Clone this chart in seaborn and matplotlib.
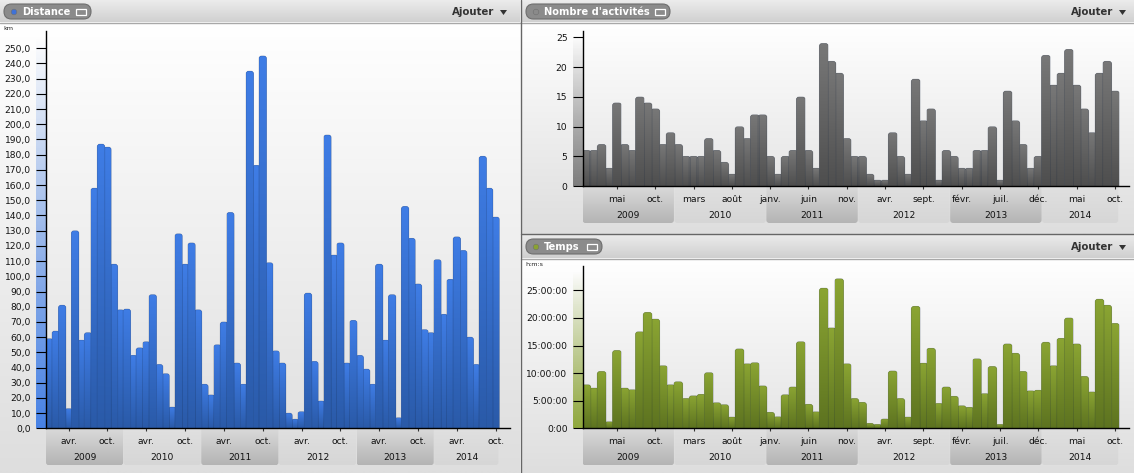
import numpy as np
import pandas as pd
import seaborn as sns
import matplotlib
matplotlib.use("Agg")
import matplotlib.pyplot as plt
from matplotlib.colors import to_rgb
from matplotlib.patches import FancyBboxPatch, Rectangle, Polygon, Circle

# values per month, january 2009 to october 2014
distance_km = [59, 64, 81, 13, 130, 58, 63, 158, 187, 185, 108, 78,
               78.5, 48, 53, 57, 88, 42, 36, 14, 128, 108, 122, 78,
               29, 22, 55, 70, 142, 43, 29, 235, 173, 245, 109, 51,
               43, 10, 6, 11, 89, 44, 18, 193, 114, 122, 43, 71,
               48, 39, 29, 108, 58, 88, 7, 146, 125, 95, 65, 63,
               111, 75, 98, 126, 117, 60, 42, 179, 158, 139]
activities = [6, 6, 7, 3, 14, 7, 6, 15, 14, 13, 7, 9,
              7, 5, 5, 5, 8, 6, 4, 2, 10, 8, 12, 12,
              5, 2, 5, 6, 15, 6, 3, 24, 21, 19, 8, 5,
              5, 2, 1, 1, 9, 5, 2, 18, 11, 13, 1, 6,
              5, 3, 3, 6, 6, 10, 1, 16, 11, 7, 3, 5,
              22, 17, 19, 23, 17, 13, 9, 19, 21, 16]
time_hours = [7.9, 7.3, 10.3, 1.2, 14.1, 7.3, 7.0, 17.5, 21, 19.8, 11.35, 7.9,
              8.45, 5.4, 5.9, 6.15, 10.1, 4.65, 4.3, 2.05, 14.4, 11.7, 11.9, 7.7,
              2.9, 2.1, 6.1, 7.5, 15.7, 4.35, 3, 25.4, 18.2, 27.1, 11.7, 5.4,
              4.7, 0.9, 0.7, 1.7, 10.4, 5.4, 2.05, 22.1, 11.8, 14.5, 4.5, 7.5,
              5.8, 4.1, 3.8, 12.6, 6.3, 11.2, 0.7, 15.3, 13.6, 10.3, 6.8, 6.9,
              15.6, 11.35, 16.3, 20, 15.3, 9.4, 6.6, 23.4, 22.3, 19]

years = ["2009", "2010", "2011", "2012", "2013", "2014"]
year_months = [12, 12, 12, 12, 12, 10]

distance_ticks = list(range(0, 251, 10))
distance_labels = [f"{v},0" for v in distance_ticks]
activity_ticks = [0, 5, 10, 15, 20, 25]
activity_labels = ["0", "5", "10", "15", "20", "25"]
time_ticks = [0, 5, 10, 15, 20, 25]
time_labels = ["0:00", "5:00:00", "10:00:00", "15:00:00", "20:00:00", "25:00:00"]

left_month_ticks = [3, 9, 15, 21, 27, 33, 39, 45, 51, 57, 63, 69]
left_month_labels = ["avr.", "oct."] * 6
right_month_ticks = [4, 9, 14, 19, 24, 29, 34, 39, 44, 49, 54, 59, 64, 69]
right_month_labels = ["mai", "oct.", "mars", "août", "janv.", "juin", "nov.",
                      "avr.", "sept.", "févr.", "juil.", "déc.", "mai", "oct."]

W, H = 1134, 473
FS = 6.6

sns.set_theme(style="white")
plt.rcParams["font.family"] = ["DejaVu Sans"]

fig = plt.figure(figsize=(W / 100, H / 100), dpi=100, facecolor="white")
bg = fig.add_axes([0, 0, 1, 1], zorder=0)
bg.axis("off")


def ramp(top, bottom, a_top=1.0, a_bottom=1.0):
    # vertical colour ramp for imshow
    t = np.linspace(0, 1, 128)[:, None, None]
    c0 = np.array(list(to_rgb(top)) + [a_top])[None, None, :]
    c1 = np.array(list(to_rgb(bottom)) + [a_bottom])[None, None, :]
    return c0 * (1 - t) + c1 * t


def bg_grad(x0, x1, y0, y1, top, bottom, a_top=1.0, a_bottom=1.0, clip=None, z=1):
    im = bg.imshow(ramp(top, bottom, a_top, a_bottom), extent=(x0, x1, y1, y0),
                   aspect="auto", interpolation="bilinear", zorder=z)
    if clip is not None:
        im.set_clip_path(clip)
    return im


def panel(x0, x1, y0, y1, head, title, dot, pill_w, add_x):
    # header bar and plot background
    bg_grad(x0, x1, y0, y0 + head, "#ececec", "#cfcfcf")
    bg_grad(x0, x1, y0 + head, y1, "#ffffff", "#dedede")
    bg.plot([x0, x1], [y0 + head, y0 + head], color="#a8a8a8", lw=1, zorder=3)
    px = x0 + 5 if x0 > 0 else 4
    py = y0 + 4
    bg.add_patch(FancyBboxPatch((px, py), pill_w, 15, boxstyle="round,pad=0,rounding_size=7.5",
                                fc="#8b8b8b", ec="#6e6e6e", lw=0.8, zorder=3))
    bg.add_patch(Circle((px + 10, py + 8), 2.8, fc=dot, ec="#707070", lw=0.4, zorder=4))
    bg.text(px + 18, py + 8, title, color="white", fontsize=7.1, fontweight="bold",
            ha="left", va="center", zorder=4)
    ix = px + pill_w - 15
    bg.add_patch(Rectangle((ix, py + 5), 10, 6, fc="none", ec="white", lw=0.9, zorder=4))
    bg.text(add_x, py + 8, "Ajouter", color="#333333", fontsize=7.3, fontweight="bold",
            ha="left", va="center", zorder=4)
    tx = add_x + 48
    bg.add_patch(Polygon([(tx, py + 6), (tx + 7, py + 6), (tx + 3.5, py + 11)],
                         fc="#333333", ec="none", zorder=4))


def chart(values, x0, x1, top, y_zero, px_per_unit, month_px, ticks, labels, m_ticks, m_labels,
          c_top, c_bottom, unit, unit_x):
    # plot axes placed on pixel positions, the top of the axis line is ylim top
    ax = fig.add_axes([x0 / W, 1 - y_zero / H, (x1 - x0) / W, (y_zero - top) / H], zorder=2)
    ax.patch.set_alpha(0)
    df = pd.DataFrame({"month": np.arange(len(values)), "value": values})
    sns.barplot(data=df, x="month", y="value", native_scale=True, width=1.17, color=c_top,
                saturation=1, ax=ax, legend=False)
    ax.set_xlim(-0.5, (x1 - x0) / month_px - 0.5)
    ax.set_ylim(0, (y_zero - top) / px_per_unit)
    aspect = month_px / px_per_unit
    vmax = max(values)
    for bar in list(ax.patches):
        bx, bw, bh = bar.get_x(), bar.get_width(), bar.get_height()
        z = 1 + bh / vmax
        rnd = FancyBboxPatch((bx, -6 / px_per_unit), bw, bh + 6 / px_per_unit,
                             boxstyle=f"round,pad=0,rounding_size={2.6 / month_px}",
                             mutation_aspect=aspect, fc="none", ec="#10203a", lw=0.5,
                             alpha=0.25, zorder=z + 0.001)
        ax.add_patch(rnd)
        bar.set_zorder(z)
        bar.set_linewidth(0)
        bar.set_clip_path(rnd)
        im = ax.imshow(ramp(c_top, c_bottom), extent=(bx, bx + bw, 0, bh), aspect="auto",
                       interpolation="bilinear", zorder=z)
        im.set_clip_path(rnd)
    ax.set_xlim(-0.5, (x1 - x0) / month_px - 0.5)
    ax.set_ylim(0, (y_zero - top) / px_per_unit)

    ax.set_xlabel("")
    ax.set_ylabel("")
    ax.set_yticks(ticks, labels)
    ax.set_xticks(m_ticks, m_labels)
    ax.tick_params(axis="y", length=7.2, width=0.8, color="black", pad=3.6, labelsize=FS,
                   labelcolor="#111111", left=True)
    ax.tick_params(axis="x", length=2.2, width=0.8, color="#333333", pad=4.2, labelsize=FS,
                   labelcolor="#111111", bottom=True)
    sns.despine(ax=ax)
    for s in ("left", "bottom"):
        ax.spines[s].set_color("black")
        ax.spines[s].set_linewidth(1.0)
        ax.spines[s].set_zorder(5)
    ax.grid(False)

    # colour strip behind the y ticks
    bg_grad(x0 - 10, x0, top + 6, y_zero, c_top, c_top, 0.0, 0.95, z=2)

    # year bands under the x axis
    pos = x0
    for i, (yr, n) in enumerate(zip(years, year_months)):
        wd = n * month_px
        band = FancyBboxPatch((pos, y_zero - 4), wd - 0.5, 41, boxstyle="round,pad=0,rounding_size=3",
                              fc="none", ec="none", zorder=2)
        bg.add_patch(band)
        if i % 2 == 0:
            bg_grad(pos, pos + wd - 0.5, y_zero, y_zero + 37, "#dadada", "#b4b4b4", clip=band, z=2)
        else:
            bg_grad(pos, pos + wd - 0.5, y_zero, y_zero + 37, "#e0e0e0", "#d6d6d6", clip=band, z=2)
        bg.text(pos + wd / 2, y_zero + 29.5, yr, fontsize=FS, color="#111111",
                ha="center", va="center", zorder=3)
        pos += wd
    if unit:
        bg.text(unit_x, top - 2, unit, fontsize=4.6, color="#222222", ha="left", va="center", zorder=3)
    return ax


panel(0, 520, 0, 473, 23, "Distance", "#3f72d8", 87, 452)
panel(521, W, 0, 234, 23, "Nombre d'activités", "#8a8a8a", 144, 1071)
panel(521, W, 235, 473, 23.5, "Temps", "#8aa232", 76, 1071)

chart(distance_km, 46, 510, 31, 428.3, 1.52, 6.47, distance_ticks, distance_labels,
      left_month_ticks, left_month_labels, "#3f7de6", "#2a5aa8", "km", 3)
chart(activities, 582.5, 1129, 31, 186, 5.94, 7.66, activity_ticks, activity_labels,
      right_month_ticks, right_month_labels, "#787878", "#4e4e4e", "", 0)
chart(time_hours, 582.5, 1129, 266, 428.3, 5.52, 7.66, time_ticks, time_labels,
      right_month_ticks, right_month_labels, "#8ba533", "#5d7320", "h:m:s", 525)

# panel separators
bg.plot([520.5, 520.5], [0, H], color="#666666", lw=1, zorder=6)
bg.plot([521, W], [234, 234], color="#666666", lw=1, zorder=6)

bg.set_xlim(0, W)
bg.set_ylim(H, 0)

fig.savefig("out.png", dpi=100)
